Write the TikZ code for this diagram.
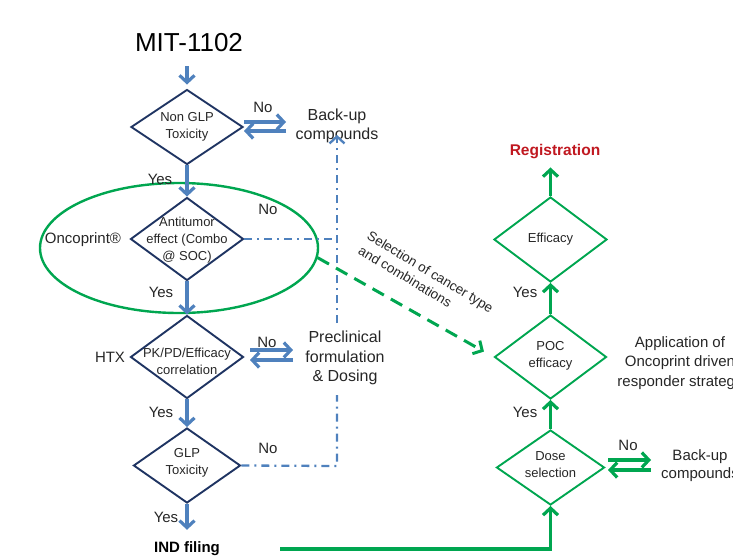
\documentclass[tikz,border=0pt]{standalone}
\usepackage{fontspec}
\setmainfont{Liberation Sans}
\usetikzlibrary{shapes.geometric,arrows.meta}
\definecolor{navy}{RGB}{31,52,98}
\definecolor{ablue}{RGB}{79,129,189}
\definecolor{agreen}{RGB}{0,166,80}
\definecolor{regred}{RGB}{192,24,32}
\begin{document}
\begin{tikzpicture}[x=1pt,y=-1pt,
  ldia/.style n args={2}{shape=diamond, draw=navy, line width=1.9pt, minimum width=#1, minimum height=#2, inner sep=0pt},
  rdia/.style n args={2}{shape=diamond, draw=agreen, line width=1.9pt, minimum width=#1, minimum height=#2, inner sep=0pt},
  dtext/.style={font=\fontsize{13}{17}\selectfont, align=center, inner sep=0pt, text=black!85},
  lbl/.style={font=\fontsize{15}{18}\selectfont, inner sep=0pt, text=black!85},
  big/.style={font=\fontsize{16}{18.5}\selectfont, align=center, inner sep=0pt, text=black!85},
  tip/.style={-{Straight Barb[length=7pt,width=15pt]}},
  barrow/.style={draw=ablue, line width=3.2pt, tip},
  garrow/.style={draw=agreen, line width=3.2pt, tip},
  ddash/.style={draw=ablue, line width=2.3pt, dash pattern=on 8pt off 5pt on 2pt off 5pt},
]
\useasboundingbox (0,0) rectangle (733,557);
\clip (0,0) rectangle (733,557);

% ---- left column ----
\node[font=\fontsize{26}{28}\selectfont, inner sep=0pt] (mit) at (189,43) {MIT-1102};
\node[ldia={112}{75}] (d1) at (187,127) {};
\node[dtext] (d1t) at (187,126.5) {Non GLP\\Toxicity};
\node[ldia={113}{83}] (d2) at (187,239) {};
\node[dtext] (d2t) at (187,240.5) {Antitumor\\effect (Combo\\@ SOC)};
\node[ldia={113}{83}] (d3) at (187,357) {};
\node[dtext] (d3t) at (187,361) {PK/PD/Efficacy\\correlation};
\node[ldia={107}{75}] (d4) at (187,465.5) {};
\node[dtext] (d4t) at (187,462.5) {GLP\\Toxicity};
\node[font=\bfseries\fontsize{15}{18}\selectfont, inner sep=0pt] (ind) at (187,549) {IND filing};

\node[ellipse, draw=agreen, line width=2.4pt, minimum width=278pt, minimum height=130pt, inner sep=0pt] (onc) at (179,248) {};
\node[lbl] (onct) at (83,240) {Oncoprint®};
\node[lbl] (htx) at (110,357) {HTX};

\node[big] (backup) at (337,126) {Back-up\\compounds};
\node[big, font=\fontsize{16}{19.5}\selectfont] (prec) at (345,358) {Preclinical\\formulation\\\& Dosing};

% vertical blue arrows
\coordinate (mtop) at (187,66);
\draw[barrow] (mtop) -- ([yshift=4pt]d1.north);
\draw[barrow] (d1.south) -- (d2.north);
\draw[barrow] (d2.south) -- (d3.north);
\draw[barrow] (d3.south) -- (d4.north);
\draw[barrow] (d4.south) -- ([yshift=12pt]ind.north);

\node[lbl] (y1) at (160,179) {Yes};
\node[lbl] (y2) at (161,292) {Yes};
\node[lbl] (y3) at (161,412) {Yes};
\node[lbl] (y4) at (166,517) {Yes};

% No arrows left
\coordinate (n1a) at (244,122); \coordinate (n1b) at (286,122);
\coordinate (n1c) at (286,131); \coordinate (n1d) at (244,131);
\draw[barrow] (n1a) -- (n1b);
\draw[barrow] (n1c) -- (n1d);
\node[lbl] (no1) at (263,107) {No};
\coordinate (n3a) at (250,350); \coordinate (n3b) at (293,350);
\coordinate (n3c) at (293,360); \coordinate (n3d) at (250,360);
\draw[barrow] (n3a) -- (n3b);
\draw[barrow] (n3c) -- (n3d);
\node[lbl] (no3) at (267,342) {No};
\node[lbl] (no2) at (268,209) {No};
\node[lbl] (no4) at (268,448) {No};

% dash-dot connectors
\coordinate (vtop) at (337,323);
\coordinate (vbot) at (337,395);
\coordinate (vcorner) at (337,466);
\coordinate (vmid) at (337,239);
\draw[ddash] (d2.east) -- (vmid);
\draw[ddash, tip] (vtop) -- ([yshift=8pt]backup.south);
\draw[ddash] (d4.east) -- (vcorner) -- (vbot);

% ---- right column ----
\node[font=\bfseries\fontsize{15.5}{18}\selectfont, text=regred, inner sep=0pt] (reg) at (555,152) {Registration};
\node[rdia={113}{85}] (r1) at (550.5,239.5) {};
\node[dtext] (r1t) at (550.5,239) {Efficacy};
\node[rdia={112}{84}] (r2) at (550.5,357) {};
\node[dtext] (r2t) at (550.5,356) {POC\\efficacy};
\node[rdia={108}{75}] (r3) at (550.5,467.5) {};
\node[dtext] (r3t) at (550.5,465) {Dose\\selection};

\draw[garrow] (r1.north) -- ([yshift=-8pt]r1.north |- reg.south);
\draw[garrow] (r2.north) -- (r1.south);
\draw[garrow] (r3.north) -- (r2.south);
\node[lbl] (ry1) at (525,292) {Yes};
\node[lbl] (ry2) at (525,412) {Yes};

\coordinate (g1a) at (608,460); \coordinate (g1b) at (651,460);
\coordinate (g1c) at (651,470); \coordinate (g1d) at (608,470);
\draw[garrow] (g1a) -- (g1b);
\draw[garrow] (g1c) -- (g1d);
\node[lbl] (rno) at (628,445) {No};
\node[big, font=\fontsize{15}{18}\selectfont] (rbackup) at (700,466) {Back-up\\compounds};
\node[big, font=\fontsize{15}{19.5}\selectfont] (appl) at (680,363) {Application of\\Oncoprint driven\\responder strategy};

\coordinate (gstart) at (280,549);
\draw[garrow] (gstart) -| (r3.south);

% selection arrow
\draw[agreen, line width=3pt, dash pattern=on 13pt off 8pt, tip, shorten >=11pt] (onc.-4) -- (r2.west);
\node[font=\fontsize{13.5}{17}\selectfont, align=left, rotate=-31, inner sep=0pt, text=black!85] (sel) at (426,279) {Selection of cancer type\\and combinations};
\end{tikzpicture}
\end{document}
